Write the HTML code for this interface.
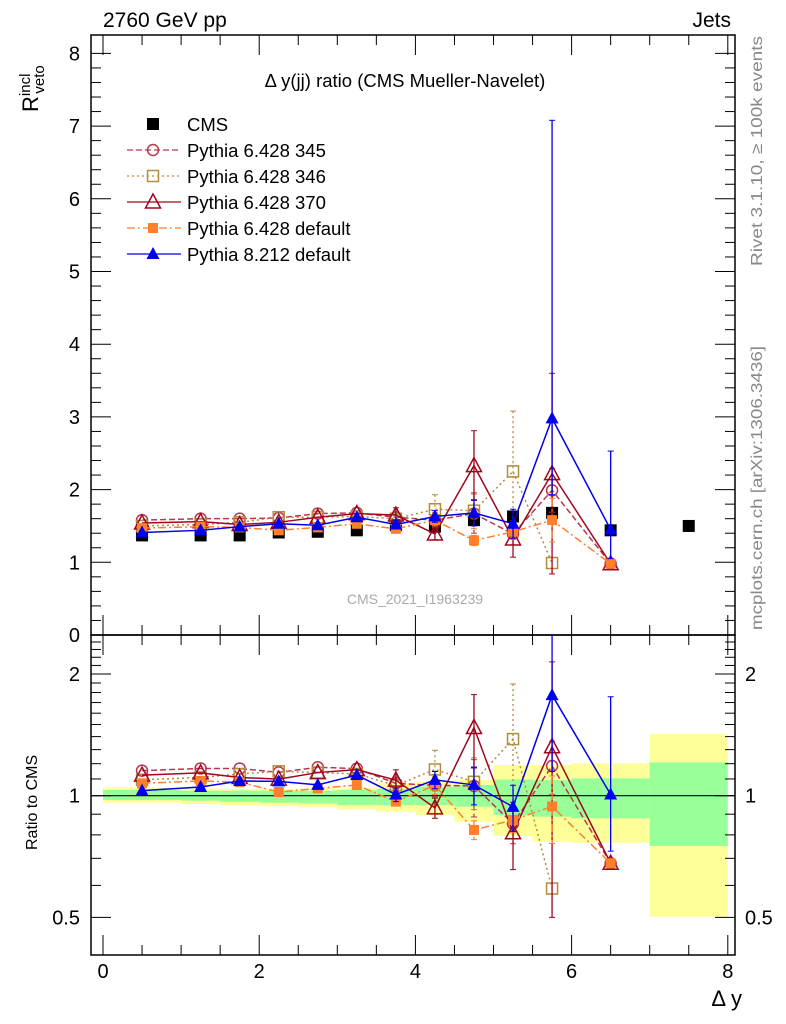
<!DOCTYPE html>
<html><head><meta charset="utf-8"><style>
html,body{margin:0;padding:0;background:#fff;overflow:hidden;width:786px;height:1024px}
svg{display:block;font-family:"Liberation Sans",sans-serif}
</style></head><body>
<svg id="c" width="786" height="1024" viewBox="0 0 786 1024" xmlns="http://www.w3.org/2000/svg"></svg>
<script>
const xs=[0.5,1.25,1.75,2.25,2.75,3.25,3.75,4.25,4.75,5.25,5.75,6.5,7.5];
const cms=[1.37,1.37,1.37,1.41,1.42,1.44,1.51,1.49,1.58,1.63,1.68,1.44,1.50];
const p345=[1.58,1.60,1.60,1.61,1.67,1.68,1.62,1.58,1.67,1.39,1.99,0.98,null];
const e345=[0.03,0.03,0.03,0.03,0.04,0.05,0.06,0.1,0.27,0.15,0.3,0.02,0];
const p346=[1.50,1.52,1.55,1.62,1.62,1.63,1.60,1.73,1.71,2.25,0.99,null,null];
const e346=[0.03,0.03,0.03,0.03,0.04,0.04,0.06,0.2,0.25,0.83,0.05,0,0];
const p370=[1.54,1.56,1.52,1.55,1.62,1.67,1.65,1.39,2.33,1.32,2.22,0.98,null];
const e370=[0.04,0.04,0.04,0.04,0.05,0.05,0.1,0.08,0.48,0.25,1.38,0.02,0];
const pdef=[1.47,1.49,1.48,1.44,1.48,1.53,1.46,1.58,1.30,1.42,1.58,0.98,null];
const edef=[0.03,0.03,0.03,0.03,0.04,0.04,0.05,0.08,0.07,0.1,0.3,0.02,0];
const p8=[1.41,1.44,1.49,1.53,1.51,1.62,1.52,1.63,1.68,1.53,2.98,1.45,null];
const e8=[0.03,0.03,0.03,0.03,0.04,0.04,0.06,0.08,0.18,0.2,4.1,1.08,0];
const e8dn=[0.03,0.03,0.03,0.03,0.04,0.04,0.06,0.08,0.18,0.2,1.05,0.4,0];
const binEdges=[0,1,1.5,2,2.5,3,3.5,4,4.5,5,5.5,6,7,8];
const yelHi=[1.047,1.043,1.039,1.039,1.043,1.043,1.073,1.083,1.093,1.191,1.191,1.202,1.421];
const yelLo=[0.961,0.954,0.948,0.943,0.936,0.925,0.913,0.896,0.862,0.795,0.769,0.765,0.502];
const grnHi=[1.033,1.029,1.029,1.029,1.029,1.033,1.039,1.053,1.063,1.097,1.093,1.104,1.209];
const grnLo=[0.976,0.972,0.966,0.961,0.957,0.948,0.948,0.948,0.939,0.896,0.887,0.879,0.751];
const mainTicks=[0,1,2,3,4,5,6,7,8];
const xTicks=[0,2,4,6,8];
const ratioTicks=[0.5,1,2];

const NS="http://www.w3.org/2000/svg";
const svg=document.getElementById('c');
function el(t,a,p){const e=document.createElementNS(NS,t);for(const k in a)e.setAttribute(k,a[k]);(p||svg).appendChild(e);return e;}
const L=91,R=735,MT=35,MB=635,RB=955;
const X=v=>103+v*78.1;
const Y=v=>635-v*72.7;
const YR=r=>795.7-121.7*Math.log2(r);

const defs=el('defs',{});
const cp1=el('clipPath',{id:'cm'},defs);el('rect',{x:L,y:MT,width:R-L,height:MB-MT},cp1);
const cp2=el('clipPath',{id:'cr'},defs);el('rect',{x:L,y:MB,width:R-L,height:RB-MB},cp2);

const gb=el('g',{'clip-path':'url(#cr)'});

for(let i=0;i<yelHi.length;i++){
  const x0=X(binEdges[i]),x1=X(binEdges[i+1]);
  const y=el('rect',{x:x0,y:YR(yelHi[i]),width:x1-x0,height:YR(yelLo[i])-YR(yelHi[i]),fill:'#ffff99'},gb);
  
  const g=el('rect',{x:x0,y:YR(grnHi[i]),width:x1-x0,height:YR(grnLo[i])-YR(grnHi[i]),fill:'#99ff99'},gb);
  
}
el('line',{x1:L,x2:R,y1:YR(1),y2:YR(1),stroke:'#000','stroke-width':1.2});

el('rect',{x:L,y:MT,width:R-L,height:MB-MT,fill:'none',stroke:'#000','stroke-width':1.5,});
el('rect',{x:L,y:MB,width:R-L,height:RB-MB,fill:'none',stroke:'#000','stroke-width':1.5,});

for(let v=0;v<=8.01;v+=0.2){
  const maj=Math.abs(v-Math.round(v))<1e-6, l=maj?20:10, y=Y(v);
  if(y<MT)continue;
  el('line',{x1:L,x2:L+l,y1:y,y2:y,stroke:'#000','stroke-width':1});
  el('line',{x1:R,x2:R-l,y1:y,y2:y,stroke:'#000','stroke-width':1});
}
mainTicks.forEach(v=>{const t=el('text',{x:80,y:Y(v)+7,'font-size':20,'text-anchor':'end'});t.textContent=v;
 });
[0.5,0.6,0.7,0.8,0.9,1,1.1,1.2,1.3,1.4,1.5,1.6,1.7,1.8,1.9,2,2.1,2.2,2.3,2.4].forEach(r=>{
  const maj=ratioTicks.includes(r),l=maj?20:10,y=YR(r);
  el('line',{x1:L,x2:L+l,y1:y,y2:y,stroke:'#000'});el('line',{x1:R,x2:R-l,y1:y,y2:y,stroke:'#000'});
});
ratioTicks.forEach(r=>{
  let t=el('text',{x:80,y:YR(r)+7,'font-size':20,'text-anchor':'end'});t.textContent=r;
  
  t=el('text',{x:745,y:YR(r)+7,'font-size':20});t.textContent=r;
  
});
for(let v=0;v<=8.01;v+=0.5){
  const maj=Math.abs(v/2-Math.round(v/2))<1e-6,l=maj?20:10,x=X(v);
  [[RB,RB-l],[MB,MB-l],[MB,MB+l],[MT,MT+l]].forEach(p=>el('line',{x1:x,x2:x,y1:p[0],y2:p[1],stroke:'#000'}));
}
xTicks.forEach(v=>{const t=el('text',{x:X(v),y:978,'font-size':20,'text-anchor':'middle'});t.textContent=v;
 });

function txt(s,a,name){const t=el('text',a);t.textContent=s;return t;}
txt('2760 GeV pp',{x:103,y:27,'font-size':21},'collision-label');
txt('Jets',{x:731,y:27,'font-size':21,'text-anchor':'end'},'process-label');
txt('Δ y(jj) ratio (CMS Mueller-Navelet)',{x:405,y:87,'font-size':18.5,'text-anchor':'middle'},'plot-title');
txt('CMS_2021_I1963239',{x:415,y:604,'font-size':14,fill:'#aaaaaa','text-anchor':'middle'},'analysis-id');
const yt=txt('',{transform:'translate(38,112) rotate(-90)','font-size':22},'y-axis-title');
yt.innerHTML='R<tspan font-size="15" dy="-8">incl</tspan><tspan font-size="15" dy="14" dx="-20">veto</tspan>';
txt('Ratio to CMS',{transform:'translate(37,850) rotate(-90)','font-size':16},'ratio-axis-title');
txt('Δ y',{x:742,y:1006,'font-size':22,'text-anchor':'end'},'x-axis-title');
txt('Rivet 3.1.10, ≥ 100k events',{transform:'translate(762,266) rotate(-90)','font-size':16,fill:'#888',textLength:230,lengthAdjust:'spacingAndGlyphs'},'rivet-label');
txt('mcplots.cern.ch [arXiv:1306.3436]',{transform:'translate(762,630) rotate(-90)','font-size':16,fill:'#888',textLength:284,lengthAdjust:'spacingAndGlyphs'},'mcplots-label');

function marker(g,type,x,y,col){
  let m;
  if(type==='fsq') m=el('rect',{x:x-6,y:y-6,width:12,height:12,fill:col},g);
  else if(type==='osq') m=el('rect',{x:x-5.5,y:y-5.5,width:11,height:11,fill:'none',stroke:col,'stroke-width':1.5},g);
  else if(type==='oci') m=el('circle',{cx:x,cy:y,r:5.5,fill:'none',stroke:col,'stroke-width':1.5},g);
  else if(type==='otr') m=el('path',{d:`M${x},${y-8}L${x+7.5},${y+6}L${x-7.5},${y+6}Z`,fill:'none',stroke:col,'stroke-width':1.5},g);
  else if(type==='ftr') m=el('path',{d:`M${x},${y-7}L${x+6.5},${y+5}L${x-6.5},${y+5}Z`,fill:col},g);
  else if(type==='fsm') m=el('rect',{x:x-5,y:y-5,width:10,height:10,fill:col},g);
  
}
const series=[
 {name:'pythia-6428-345',vals:p345,err:e345,dn:e345,col:'#b8374e',dash:'6,3',m:'oci',label:'Pythia 6.428 345'},
 {name:'pythia-6428-346',vals:p346,err:e346,dn:e346,col:'#b38b3d',dash:'2,3',m:'osq',label:'Pythia 6.428 346'},
 {name:'pythia-6428-370',vals:p370,err:e370,dn:e370,col:'#a0061e',dash:'',m:'otr',label:'Pythia 6.428 370'},
 {name:'pythia-6428-default',vals:pdef,err:edef,dn:edef,col:'#ff7f2a',dash:'8,3,2,3',m:'fsm',label:'Pythia 6.428 default'},
 {name:'pythia-8212-default',vals:p8,err:e8,dn:e8dn,col:'#0000ee',dash:'',m:'ftr',label:'Pythia 8.212 default'}
];
function draw(panel){
  const clip=panel==='main'?'url(#cm)':'url(#cr)';
  const Yf=panel==='main'?Y:YR;
  const conv=(v,i)=>panel==='main'?v:v/cms[i];
  if(panel==='main'){
    const g=el('g',{'clip-path':clip});
    cms.forEach((v,i)=>marker(g,'fsq',X(xs[i]),Y(v),'#000'));
  }
  series.forEach(s=>{
    const g=el('g',{'clip-path':clip});
    
    let pts=[];
    s.vals.forEach((v,i)=>{if(v==null)return;
      const x=X(xs[i]),y=Yf(conv(v,i));pts.push(x+','+y);
      const e=s.err[i],d=s.dn[i];
      if(e>0.05){const y1=Yf(conv(v+e,i)),y2=Yf(conv(Math.max(v-d,0.05),i));
        el('line',{x1:x,x2:x,y1:y1,y2:y2,stroke:s.col,'stroke-width':1.3,'stroke-dasharray':s.dash},g);
        el('line',{x1:x-3,x2:x+3,y1:y1,y2:y1,stroke:s.col},g);el('line',{x1:x-3,x2:x+3,y1:y2,y2:y2,stroke:s.col},g);}
    });
    const pl=el('polyline',{points:pts.join(' '),fill:'none',stroke:s.col,'stroke-width':1.5,'stroke-dasharray':s.dash},g);
    
    s.vals.forEach((v,i)=>{if(v!=null)marker(g,s.m,X(xs[i]),Yf(conv(v,i)),s.col);});
  });
}
draw('main');draw('ratio');

const lg=el('g',{});
marker(lg,'fsq',153,124,'#000');
let t=el('text',{x:187,y:131,'font-size':18.5},lg);t.textContent='CMS';

series.forEach((s,i)=>{const y=150+i*26;
  el('line',{x1:127,x2:181,y1:y,y2:y,stroke:s.col,'stroke-width':1.3,'stroke-dasharray':s.dash},lg);
  marker(lg,s.m,153,y,s.col);
  const tt=el('text',{x:187,y:y+7,'font-size':18.5},lg);tt.textContent=s.label;
  
});
</script>
</body></html>
